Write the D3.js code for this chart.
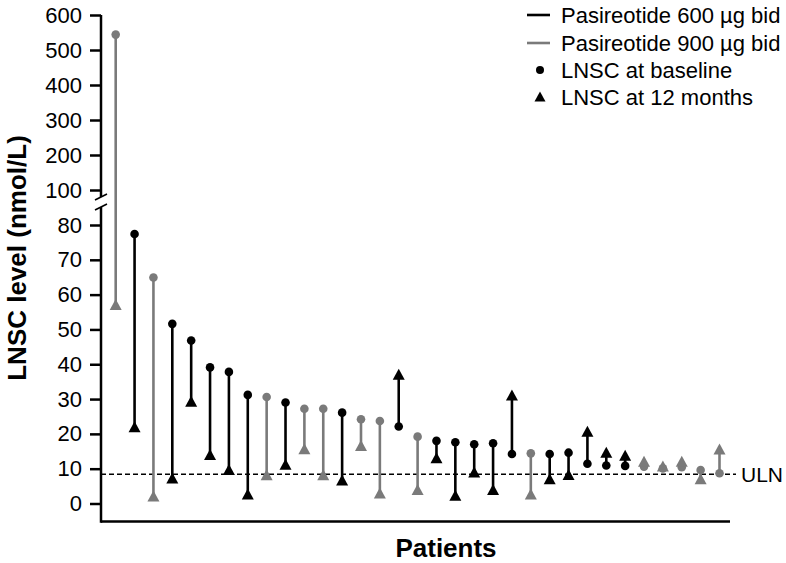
<!DOCTYPE html>
<html><head><meta charset="utf-8">
<script src="https://cdn.jsdelivr.net/npm/d3@7"></script>
<style>body{margin:0;background:#fff}svg{display:block;font-family:"Liberation Sans",Arial,sans-serif}</style>
</head><body><svg id="c" width="786" height="563"></svg>
<script>
const patients = ["P1","P2","P3","P4","P5","P6","P7","P8","P9","P10","P11","P12","P13","P14","P15","P16","P17","P18","P19","P20","P21","P22","P23","P24","P25","P26","P27","P28","P29","P30","P31","P32","P33"];
const dose = [900,600,900,600,600,600,600,600,900,600,900,900,600,900,900,600,900,600,600,600,600,600,900,600,600,600,600,600,900,900,900,900,900];
const baseline = [544,77.4,64.9,51.6,46.8,39.1,37.8,31.2,30.6,29,27.2,27.2,26.1,24.2,23.7,22.1,19.2,18,17.6,17,17.3,14.2,14.4,14.2,14.6,11.4,10.9,10.8,10.6,10.1,10.4,9.6,8.7];
const month12 = [57,21.9,2,7.2,29.2,13.9,9.6,2.6,8.1,11.1,15.6,8.1,6.6,16.5,2.9,37,3.9,13,2.2,8.9,3.9,31,2.6,7,8.2,20.6,14.6,13.7,12,10.6,12,7,15.5];
const yTicks = [0,10,20,30,40,50,60,70,80,100,200,300,400,500,600];
const uln = 8.4;
const legendItems = ["Pasireotide 600 µg bid","Pasireotide 900 µg bid","LNSC at baseline","LNSC at 12 months"];

const colors = {600:"#000000",900:"#7a7a7a"};
const svg = d3.select("#c");
const axX = 101, axBottom = 521.5, axRight = 730;
const x = d3.scalePoint().domain(patients).range([115.7,719.5]);
const y = d3.scaleLinear().domain([0,80,100,600]).range([503.5,225,190,15]);

// ULN dashed line
svg.append("line").attr("x1",axX).attr("x2",736).attr("y1",y(uln)).attr("y2",y(uln))
  .attr("stroke","#000").attr("stroke-width",1.4).attr("stroke-dasharray","5,3");
svg.append("text").attr("x",741).attr("y",y(uln)+7.5).attr("font-size",21).text("ULN");

// axes
const yAxis = d3.axisLeft(y).tickValues(yTicks).tickSize(11).tickPadding(8).tickFormat(d3.format("d"));
const gy = svg.append("g").attr("transform",`translate(${axX},0)`).call(yAxis);
gy.select(".domain").remove();
gy.selectAll(".tick line").attr("stroke","#000").attr("stroke-width",2.5);
gy.selectAll(".tick text").attr("font-size",22).attr("font-family","Liberation Sans, Arial, sans-serif").attr("fill","#000");
// y axis line with break
const brkTop = 197, brkBot = 207;
svg.append("line").attr("x1",axX).attr("x2",axX).attr("y1",y(600)).attr("y2",brkTop).attr("stroke","#000").attr("stroke-width",2.5);
svg.append("line").attr("x1",axX).attr("x2",axX).attr("y1",brkBot).attr("y2",axBottom+1.2).attr("stroke","#000").attr("stroke-width",2.5);
[brkTop, brkBot].forEach(b=>{
  svg.append("line").attr("x1",axX-6).attr("x2",axX+6).attr("y1",b+3).attr("y2",b-3).attr("stroke","#000").attr("stroke-width",1.6);
});
svg.append("line").attr("x1",axX).attr("x2",axRight).attr("y1",axBottom).attr("y2",axBottom).attr("stroke","#000").attr("stroke-width",2.5);

// axis titles
svg.append("text").attr("transform",`translate(26,${258}) rotate(-90)`).attr("text-anchor","middle")
  .attr("font-size",26).attr("font-weight","bold").text("LNSC level (nmol/L)");
svg.append("text").attr("x",446).attr("y",557).attr("text-anchor","middle")
  .attr("font-size",26).attr("font-weight","bold").text("Patients");

// data
const data = patients.map((p,i)=>({p, dose:dose[i], b:baseline[i], m:month12[i]}));
const tri = (cx,cy)=>`M${cx},${cy-6}L${cx+6},${cy+5}L${cx-6},${cy+5}Z`;
const g = svg.append("g");
g.selectAll("line.seg").data(data).join("line").attr("class","seg")
  .attr("x1",d=>x(d.p)).attr("x2",d=>x(d.p)).attr("y1",d=>y(d.b)).attr("y2",d=>y(d.m))
  .attr("stroke",d=>colors[d.dose]).attr("stroke-width",2.6);
g.selectAll("circle").data(data).join("circle")
  .attr("cx",d=>x(d.p)).attr("cy",d=>y(d.b)).attr("r",4.3).attr("fill",d=>colors[d.dose]);
g.selectAll("path.tri").data(data).join("path").attr("class","tri")
  .attr("d",d=>tri(x(d.p),y(d.m))).attr("fill",d=>colors[d.dose]);

// legend
const lg = svg.append("g");
const rows = [15,43,70,97];
legendItems.forEach((t,i)=>{
  const ry = rows[i];
  if(i<2){
    lg.append("line").attr("x1",527).attr("x2",550).attr("y1",ry).attr("y2",ry)
      .attr("stroke",colors[i===0?600:900]).attr("stroke-width",2.6);
  } else if(i===2){
    lg.append("circle").attr("cx",540).attr("cy",ry).attr("r",4).attr("fill","#000");
  } else {
    lg.append("path").attr("d",`M540,${ry-5.5}L545.5,${ry+4.5}L534.5,${ry+4.5}Z`).attr("fill","#000");
  }
  lg.append("text").attr("x",561).attr("y",ry+8).attr("font-size",22).text(t);
});
</script></body></html>
